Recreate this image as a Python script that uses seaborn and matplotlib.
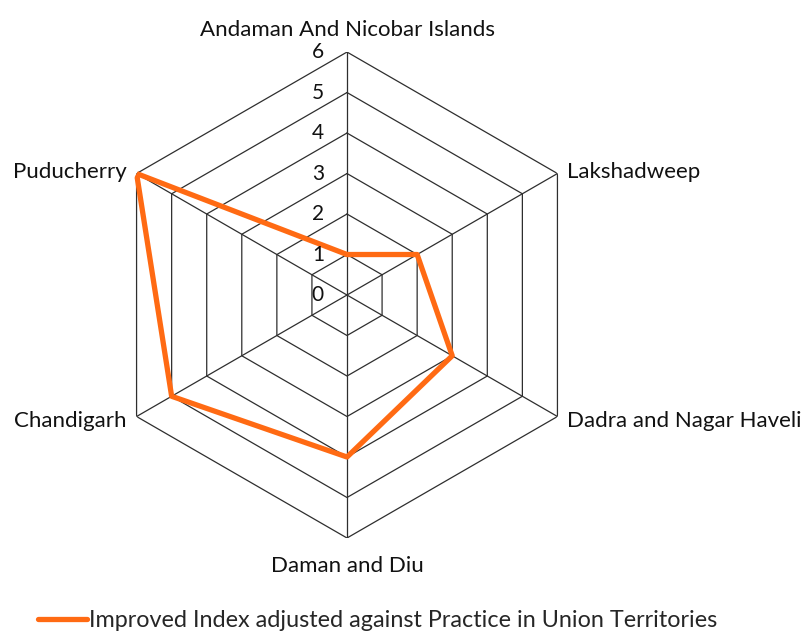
import numpy as np
import pandas as pd
import seaborn as sns
import matplotlib.pyplot as plt

# categories clockwise from the top
territories = ["Andaman And Nicobar Islands", "Lakshadweep", "Dadra and Nagar Haveli",
               "Daman and Diu", "Chandigarh", "Puducherry"]
index_values = [1, 2, 3, 4, 5, 6]
tick_levels = [0, 1, 2, 3, 4, 5, 6]
series_name = "Improved Index adjusted against Practice in Union Territories"

sns.set_style("white")
plt.rcParams["font.family"] = ["Lato", "DejaVu Sans"]

n = len(territories)
angles = np.linspace(0, 2 * np.pi, n, endpoint=False)
closed_angles = np.append(angles, angles[0])

df = pd.DataFrame({
    "angle": closed_angles,
    "value": index_values + index_values[:1],
})

fig = plt.figure(figsize=(8.12, 6.32), dpi=100)
ax = fig.add_axes([0.1281, 0.1487, 0.5985, 0.769], projection="polar")
ax.set_theta_offset(np.pi / 2)
ax.set_theta_direction(-1)
ax.set_ylim(0, 6)
ax.grid(False)
ax.spines["polar"].set_visible(False)
ax.set_xticks([])
ax.set_yticks([])

# hexagonal grid rings and spokes
grid_color = "#2e2e2e"
for lvl in tick_levels[1:]:
    ax.plot(closed_angles, [lvl] * (n + 1), color=grid_color, lw=0.9, zorder=1)
for a in angles:
    ax.plot([a, a], [0, 6], color=grid_color, lw=0.9, zorder=1)

sns.lineplot(data=df, x="angle", y="value", sort=False, estimator=None, ax=ax,
             color="#FF6A13", linewidth=3.8, label=series_name, zorder=3)
ax.set_xlabel("")
ax.set_ylabel("")

# radial tick labels left of the vertical axis
for lvl in tick_levels:
    ax.annotate(str(lvl), xy=(0, lvl), xytext=(-21, 0), textcoords="offset points",
                ha="center", va="center", fontsize=15, color="#111111")

# category labels
label_pos = [
    dict(xytext=(0, 9), ha="center", va="bottom"),
    dict(xytext=(7, 1), ha="left", va="center"),
    dict(xytext=(7, -3), ha="left", va="center"),
    dict(xytext=(0, -13), ha="center", va="top"),
    dict(xytext=(-7, -3), ha="right", va="center"),
    dict(xytext=(-7, 1), ha="right", va="center"),
]
for a, name, pos in zip(angles, territories, label_pos):
    ax.annotate(name, xy=(a, 6), textcoords="offset points", fontsize=16,
                color="#111111", annotation_clip=False, **pos)

ax.legend(loc="center left", bbox_to_anchor=(0.047, 0.018), bbox_transform=fig.transFigure,
          frameon=False, fontsize=16.8, handlelength=2.1, handletextpad=0.1,
          borderaxespad=0, borderpad=0)

fig.savefig("out.png", dpi=100)
